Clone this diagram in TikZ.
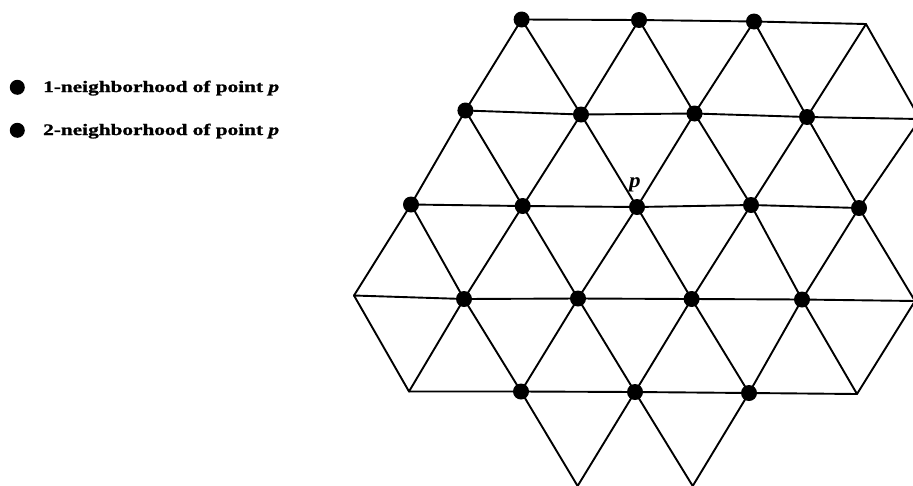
\documentclass[tikz,border=0pt]{standalone}
\usepackage{fontspec}
\setmainfont{Liberation Serif}
\newfontfamily\legendfont[FakeStretch=1.33, FakeBold=1.2]{Liberation Serif}
\newfontfamily\plabelfont[FakeStretch=1.1]{Liberation Serif}
\tikzset{
  edge/.style={line width=1.9pt, line join=round, line cap=round},
  dot/.style={circle, fill=black, inner sep=0pt, minimum size=16pt},
  legdot/.style={circle, fill=black, inner sep=0pt, minimum size=15pt},
  legtext/.style={anchor=base west, inner sep=0pt, font=\legendfont\bfseries\fontsize{16}{19}\selectfont},
  plabel/.style={anchor=base, inner sep=0pt, font=\plabelfont\bfseries\itshape\fontsize{21}{24}\selectfont}
}
\begin{document}
\begin{tikzpicture}[x=1pt,y=-1pt]
\useasboundingbox (0,0) rectangle (913,485);
\clip (0,0) rectangle (913,485);
% lattice vertices
\coordinate (v3-0) at (521.6,19.5);
\coordinate (v5-0) at (639,20);
\coordinate (v7-0) at (754,21.5);
\coordinate (v9-0) at (866,24);
\coordinate (v2-1) at (465.4,110.5);
\coordinate (v4-1) at (581,114.5);
\coordinate (v6-1) at (694.5,113.5);
\coordinate (v8-1) at (807,117);
\coordinate (v10-1) at (920,119);
\coordinate (v1-2) at (411,204.5);
\coordinate (v3-2) at (522.7,206);
\coordinate (v5-2) at (637,207);
\coordinate (v7-2) at (751,205);
\coordinate (v9-2) at (859,208);
\coordinate (v0-3) at (354,295.5);
\coordinate (v2-3) at (464,299);
\coordinate (v4-3) at (578,298.5);
\coordinate (v6-3) at (691.6,299);
\coordinate (v8-3) at (802,299.5);
\coordinate (v10-3) at (915,301);
\coordinate (v1-4) at (409,391.5);
\coordinate (v3-4) at (521,391.5);
\coordinate (v5-4) at (635,392);
\coordinate (v7-4) at (749,393);
\coordinate (v9-4) at (857,394);
\coordinate (v4-5) at (577.6,486);
\coordinate (v6-5) at (692.7,486);
% horizontal edges
\draw[edge] (v3-0) -- (v5-0) -- (v7-0) -- (v9-0);
\draw[edge] (v2-1) -- (v4-1) -- (v6-1) -- (v8-1) -- (v10-1);
\draw[edge] (v1-2) -- (v3-2) -- (v5-2) -- (v7-2) -- (v9-2);
\draw[edge] (v0-3) -- (v2-3) -- (v4-3) -- (v6-3) -- (v8-3) -- (v10-3);
\draw[edge] (v1-4) -- (v3-4) -- (v5-4) -- (v7-4) -- (v9-4);
% diagonal edges
\draw[edge] (v2-1) -- (v3-0) -- (v4-1) -- (v5-0) -- (v6-1) -- (v7-0) -- (v8-1) -- (v9-0) -- (v10-1);
\draw[edge] (v1-2) -- (v2-1) -- (v3-2) -- (v4-1) -- (v5-2) -- (v6-1) -- (v7-2) -- (v8-1) -- (v9-2) -- (v10-1);
\draw[edge] (v0-3) -- (v1-2) -- (v2-3) -- (v3-2) -- (v4-3) -- (v5-2) -- (v6-3) -- (v7-2) -- (v8-3) -- (v9-2) -- (v10-3);
\draw[edge] (v0-3) -- (v1-4) -- (v2-3) -- (v3-4) -- (v4-3) -- (v5-4) -- (v6-3) -- (v7-4) -- (v8-3) -- (v9-4) -- (v10-3);
\draw[edge] (v3-4) -- (v4-5) -- (v5-4) -- (v6-5) -- (v7-4);
% neighbourhood dots
\foreach \c in {3-0,5-0,7-0,2-1,4-1,6-1,8-1,1-2,3-2,5-2,7-2,9-2,2-3,4-3,6-3,8-3,3-4,5-4,7-4}
  \node[dot] (d\c) at (v\c) {};
\node[plabel] (plab) at (635,187) {p};
% legend
\node[legdot] (ld1) at (17.3,87.3) {};
\node[legdot] (ld2) at (17.3,130.3) {};
\node[legtext] (lt1) at (43,92) {1-neighborhood of point \textit{p}};
\node[legtext] (lt2) at (43,135) {2-neighborhood of point \textit{p}};
\end{tikzpicture}
\end{document}
